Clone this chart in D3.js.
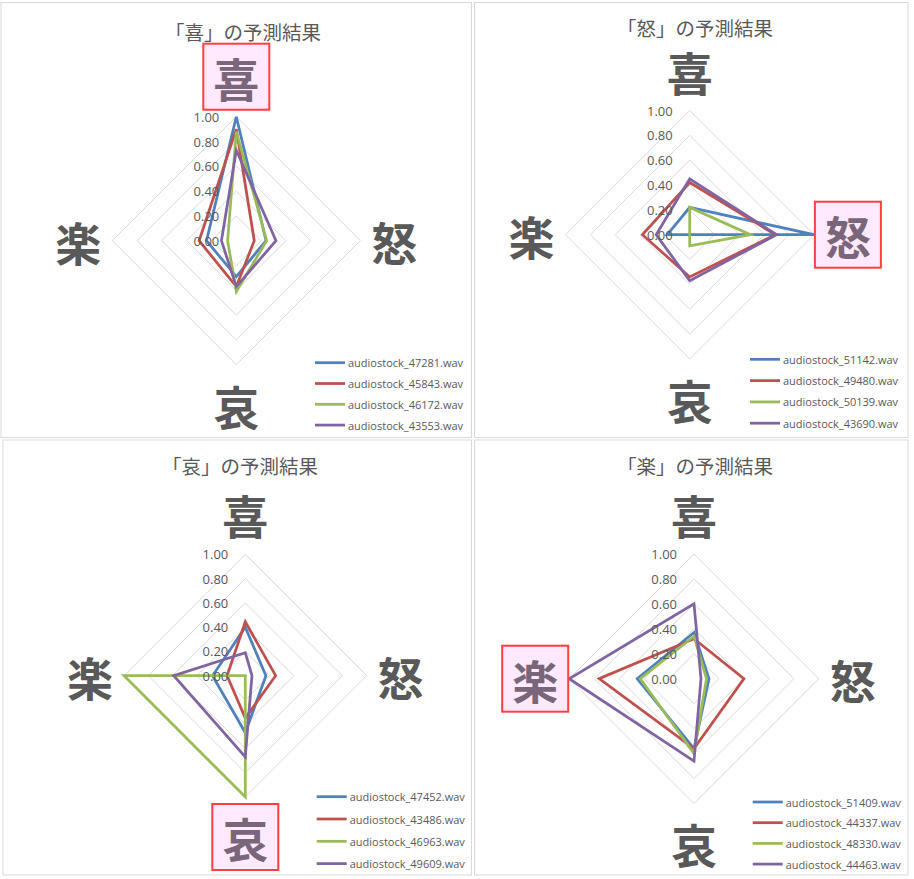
<!DOCTYPE html>
<html>
<head>
<meta charset="utf-8">
<script src="https://cdn.jsdelivr.net/npm/d3@7"></script>
<style>
  body { margin: 0; background: #fff; }
  svg { display: block; }
  .title { font-family: "Noto Sans CJK JP", sans-serif; font-size: 19.5px; fill: #595959; }
  .tick { font-family: "Open Sans", "Liberation Sans", sans-serif; font-size: 13px; fill: #595959; }
  .legend { font-family: "Open Sans", "Liberation Sans", sans-serif; font-size: 11px; fill: #595959; }
  .axisLabel { font-family: "Noto Sans CJK JP", sans-serif; font-size: 46px; font-weight: 700; }
</style>
</head>
<body>
<div id="chart"></div>
<script>
var svgWidth = 914;
var svgHeight = 879;

// axes, clockwise from the top
var axes = ["喜", "怒", "哀", "楽"];
var tickValues = [0, 0.2, 0.4, 0.6, 0.8, 1.0];
var colors = ["#4F81BD", "#C0504D", "#9BBB59", "#8064A2"];

var joyFiles = ["audiostock_47281.wav", "audiostock_45843.wav", "audiostock_46172.wav", "audiostock_43553.wav"];
var joyValues = [
  [1.00, 0.24, 0.29, 0.24],
  [0.90, 0.145, 0.37, 0.30],
  [0.88, 0.245, 0.41, 0.07],
  [0.73, 0.32, 0.37, 0.12]
];

var angerFiles = ["audiostock_51142.wav", "audiostock_49480.wav", "audiostock_50139.wav", "audiostock_43690.wav"];
var angerValues = [
  [0.22, 1.00, 0.00, 0.18],
  [0.42, 0.69, 0.34, 0.38],
  [0.22, 0.49, 0.09, 0.00],
  [0.45, 0.70, 0.37, 0.27]
];

var sorrowFiles = ["audiostock_47452.wav", "audiostock_43486.wav", "audiostock_46963.wav", "audiostock_49609.wav"];
var sorrowValues = [
  [0.40, 0.17, 0.47, 0.27],
  [0.445, 0.25, 0.35, 0.15],
  [0.00, 0.00, 1.00, 1.00],
  [0.19, 0.055, 0.67, 0.59]
];

var pleasureFiles = ["audiostock_51409.wav", "audiostock_44337.wav", "audiostock_48330.wav", "audiostock_44463.wav"];
var pleasureValues = [
  [0.37, 0.12, 0.56, 0.455],
  [0.32, 0.40, 0.56, 0.76],
  [0.34, 0.10, 0.60, 0.43],
  [0.60, 0.056, 0.66, 1.00]
];

var titles = ["「喜」の予測結果", "「怒」の予測結果", "「哀」の予測結果", "「楽」の予測結果"];

// layout of the four chart boxes
var panels = [
  { files: joyFiles, values: joyValues, box: [1, 2.5, 470.5, 435], cx: 236.3, cy: 240.7, r: 124, titleX: 243, titleY: 31, legX: 315, legY: 362.7, legStep: 20.8 },
  { files: angerFiles, values: angerValues, box: [474.5, 2.5, 433.5, 435], cx: 689.7, cy: 234.7, r: 124.2, titleX: 695, titleY: 27, legX: 750, legY: 359.3, legStep: 21.3 },
  { files: sorrowFiles, values: sorrowValues, box: [3, 440, 468.5, 435], cx: 245.3, cy: 675.7, r: 121.3, titleX: 240, titleY: 465, legX: 316.7, legY: 796.7, legStep: 22.3 },
  { files: pleasureFiles, values: pleasureValues, box: [474.5, 440, 433.5, 435], cx: 694, cy: 678.7, r: 124.8, titleX: 695, titleY: 465, legX: 752.7, legY: 802, legStep: 20.7 }
];

var svg = d3.select("#chart")
  .append("svg")
  .attr("width", svgWidth)
  .attr("height", svgHeight);

panels.forEach(function(p, pi) {
  svg.append("rect")
    .attr("x", p.box[0]).attr("y", p.box[1])
    .attr("width", p.box[2]).attr("height", p.box[3])
    .attr("fill", "#fff")
    .attr("stroke", "#d9d9d9")
    .attr("stroke-width", 1);

  svg.append("text")
    .attr("class", "title")
    .attr("x", p.titleX).attr("y", p.titleY)
    .attr("text-anchor", "middle")
    .attr("dominant-baseline", "central")
    .text(titles[pi]);

  var g = svg.append("g").attr("transform", `translate(${p.cx}, ${p.cy})`);

  var rScale = d3.scaleLinear().domain([0, 1]).range([0, p.r]);
  var angle = d3.scalePoint().domain(d3.range(axes.length)).range([0, 2 * Math.PI * (axes.length - 1) / axes.length]);

  var ring = d3.lineRadial()
    .angle(function(d, i) { return angle(i); })
    .radius(function(d) { return rScale(d); })
    .curve(d3.curveLinearClosed);

  // grid rings
  g.selectAll(".ring")
    .data(tickValues.slice(1))
    .enter()
    .append("path")
    .attr("d", function(t) { return ring(axes.map(function() { return t; })); })
    .attr("fill", "none")
    .attr("stroke", "#d9d9d9")
    .attr("stroke-width", 1);

  // series
  g.selectAll(".series")
    .data(p.values)
    .enter()
    .append("path")
    .attr("d", function(d) { return ring(d); })
    .attr("fill", "none")
    .attr("stroke", function(d, i) { return colors[i]; })
    .attr("stroke-width", 2.75)
    .attr("stroke-linejoin", "miter");

  // value labels
  g.selectAll(".tick")
    .data(tickValues)
    .enter()
    .append("text")
    .attr("class", "tick")
    .attr("x", -17)
    .attr("y", function(t) { return -rScale(t); })
    .attr("text-anchor", "end")
    .attr("dominant-baseline", "central")
    .text(function(t) { return d3.format(".2f")(t); });

  // axis names
  axes.forEach(function(name, ai) {
    var a = angle(ai);
    var lx = Math.sin(a) * (p.r + 34);
    var ly = -Math.cos(a) * (p.r + 40);
    if (ai === pi) {
      g.append("rect")
        .attr("x", lx - 33).attr("y", ly - 33)
        .attr("width", 66).attr("height", 66)
        .attr("fill", "#ffe9ff")
        .attr("stroke", "#ff4040")
        .attr("stroke-width", 2);
    }
    g.append("text")
      .attr("class", "axisLabel")
      .attr("x", lx).attr("y", ly)
      .attr("text-anchor", "middle")
      .attr("dominant-baseline", "central")
      .attr("fill", ai === pi ? "#7a667a" : "#595959")
      .text(name);
  });

  // legend
  var leg = svg.append("g");
  p.files.forEach(function(f, i) {
    var y = p.legY + i * p.legStep;
    leg.append("line")
      .attr("x1", p.legX).attr("x2", p.legX + 30)
      .attr("y1", y).attr("y2", y)
      .attr("stroke", colors[i])
      .attr("stroke-width", 2.75);
    leg.append("text")
      .attr("class", "legend")
      .attr("x", p.legX + 33).attr("y", y)
      .attr("dominant-baseline", "central")
      .text(f);
  });
});
</script>
</body>
</html>
